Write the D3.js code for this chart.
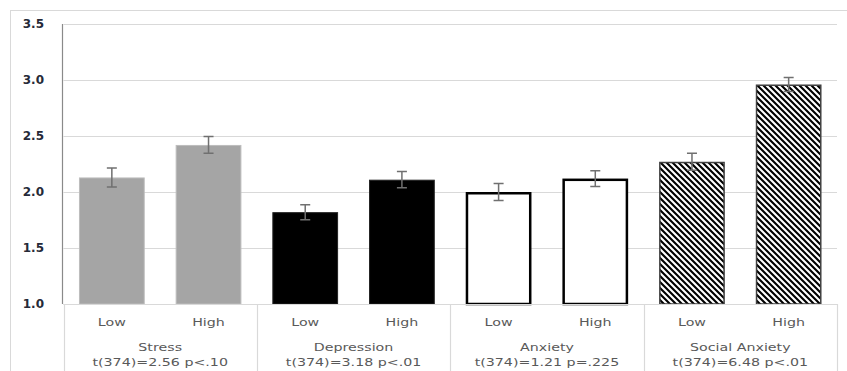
<!DOCTYPE html>
<html>
<head>
<meta charset="utf-8">
<script src="https://cdn.jsdelivr.net/npm/d3@7/dist/d3.min.js"></script>
<style>
  html, body { margin: 0; padding: 0; background: #fff; }
  svg { display: block; }
  text { font-family: "DejaVu Sans", Verdana, sans-serif; }
</style>
</head>
<body>
<svg id="chart" width="847" height="371"></svg>
<script>
// Scale groups and their test statistics
const groups = ["Stress", "Depression", "Anxiety", "Social Anxiety"];
const stats = ["t(374)=2.56 p<.10", "t(374)=3.18 p<.01", "t(374)=1.21 p=.225", "t(374)=6.48 p<.01"];
const levels = ["Low", "High"];

// Group means and standard errors for each level
const lowMeans = [2.13, 1.82, 2.00, 2.27];
const highMeans = [2.42, 2.11, 2.12, 2.96];
const lowErr = [0.085, 0.067, 0.075, 0.076];
const highErr = [0.075, 0.072, 0.07, 0.063];

const yTicks = [1.0, 1.5, 2.0, 2.5, 3.0, 3.5];

const bars = [];
groups.forEach((g, i) => {
  bars.push({ group: g, gi: i, level: levels[0], value: lowMeans[i], err: lowErr[i] });
  bars.push({ group: g, gi: i, level: levels[1], value: highMeans[i], err: highErr[i] });
});
bars.forEach((b, i) => { b.key = i; });

const svg = d3.select("#chart");
const plot = { left: 63.5, right: 837, top: 24, bottom: 304 };
const stretch = 1.26; // wide category lettering

const y = d3.scaleLinear().domain([1, 3.5]).range([plot.bottom, plot.top]);
const x = d3.scaleBand()
  .domain(bars.map(d => d.key))
  .range([plot.left, plot.right])
  .paddingInner(0.32)
  .paddingOuter(0.16);
const step = x.step();

// Hatch pattern for the social anxiety bars
const defs = svg.append("defs");
const pat = defs.append("pattern")
  .attr("id", "hatch")
  .attr("patternUnits", "userSpaceOnUse")
  .attr("width", 6).attr("height", 6);
pat.append("rect").attr("width", 6).attr("height", 6).attr("fill", "#fff");
pat.append("path")
  .attr("d", "M-1.5,-1.5L7.5,7.5M-4.5,1.5L1.5,7.5M4.5,-1.5L7.5,1.5")
  .attr("stroke", "#000").attr("stroke-width", 2.1);

// Chart frame
svg.append("rect")
  .attr("x", 10.5).attr("y", 10.5)
  .attr("width", 900).attr("height", 400)
  .attr("fill", "none").attr("stroke", "#d9d9d9");

// Gridlines
svg.append("g").selectAll("line")
  .data(yTicks)
  .join("line")
  .attr("x1", plot.left).attr("x2", plot.right)
  .attr("y1", d => Math.round(y(d)) + 0.5).attr("y2", d => Math.round(y(d)) + 0.5)
  .attr("stroke", "#d9d9d9").attr("stroke-width", 1.2);

// Y axis labels
const yAxis = d3.axisLeft(y).tickValues(yTicks).tickFormat(d3.format(".1f")).tickSize(0).tickPadding(0);
const yg = svg.append("g").attr("transform", "translate(44,0)").call(yAxis);
yg.select(".domain").remove();
yg.selectAll("text")
  .attr("font-family", "DejaVu Sans, Verdana, sans-serif")
  .attr("font-size", 12)
  .attr("font-weight", "bold")
  .attr("fill", "#262a38");

// Group separators in the category area
const sepX = [0, 1, 2, 3, 4].map(k => plot.left + k * 2 * step);
svg.append("g").selectAll("line")
  .data(sepX)
  .join("line")
  .attr("x1", d => Math.round(d) + 0.5).attr("x2", d => Math.round(d) + 0.5)
  .attr("y1", plot.bottom).attr("y2", 371)
  .attr("stroke", "#d9d9d9").attr("stroke-width", 1.2);

// Bars
const fillFor = gi => ["#a5a5a5", "#000", "#fff", "url(#hatch)"][gi];
const strokeFor = gi => ["#bdbdbd", "#222", "#000", "#404040"][gi];
const strokeW = gi => [1, 1, 2.5, 1.5][gi];

svg.append("g").selectAll("rect")
  .data(bars)
  .join("rect")
  .attr("x", d => x(d.key) + strokeW(d.gi) / 2)
  .attr("y", d => y(d.value) + strokeW(d.gi) / 2)
  .attr("width", d => x.bandwidth() - strokeW(d.gi))
  .attr("height", d => y(1) - y(d.value) - strokeW(d.gi) / 2)
  .attr("fill", d => fillFor(d.gi))
  .attr("stroke", d => strokeFor(d.gi))
  .attr("stroke-width", d => strokeW(d.gi));

// Error bars
const eg = svg.append("g").attr("stroke", "#707070").attr("stroke-width", 1.5).attr("fill", "none");
eg.selectAll("path")
  .data(bars)
  .join("path")
  .attr("d", d => {
    const cx = x(d.key) + x.bandwidth() / 2;
    const y1 = y(d.value + d.err), y2 = y(d.value - d.err);
    return `M${cx - 5},${y1}H${cx + 5}M${cx},${y1}V${y2}M${cx - 5},${y2}H${cx + 5}`;
  });

// Axis lines
svg.append("line")
  .attr("x1", plot.left).attr("x2", plot.right)
  .attr("y1", plot.bottom + 0.5).attr("y2", plot.bottom + 0.5)
  .attr("stroke", "#d9d9d9");
svg.append("line")
  .attr("x1", 62.5).attr("x2", 62.5)
  .attr("y1", plot.top).attr("y2", plot.bottom)
  .attr("stroke", "#8a8a8a").attr("stroke-width", 1.2);

// Level labels
svg.append("g").selectAll("text")
  .data(bars)
  .join("text")
  .attr("transform", d => `translate(${x(d.key) + x.bandwidth() / 2},326) scale(${stretch},1)`)
  .attr("text-anchor", "middle")
  .attr("font-size", 11.3)
  .attr("fill", "#595959")
  .text(d => d.level);

// Group names and statistics
const gl = svg.append("g").attr("text-anchor", "middle").attr("font-size", 11.3).attr("fill", "#595959");
gl.selectAll("text.name")
  .data(groups)
  .join("text")
  .attr("class", "name")
  .attr("transform", (d, i) => `translate(${plot.left + (2 * i + 1) * step},351) scale(${stretch},1)`)
  .text(d => d);
gl.selectAll("text.stat")
  .data(stats)
  .join("text")
  .attr("class", "stat")
  .attr("transform", (d, i) => `translate(${plot.left + (2 * i + 1) * step},366) scale(${stretch},1)`)
  .text(d => d);
</script>
</body>
</html>
